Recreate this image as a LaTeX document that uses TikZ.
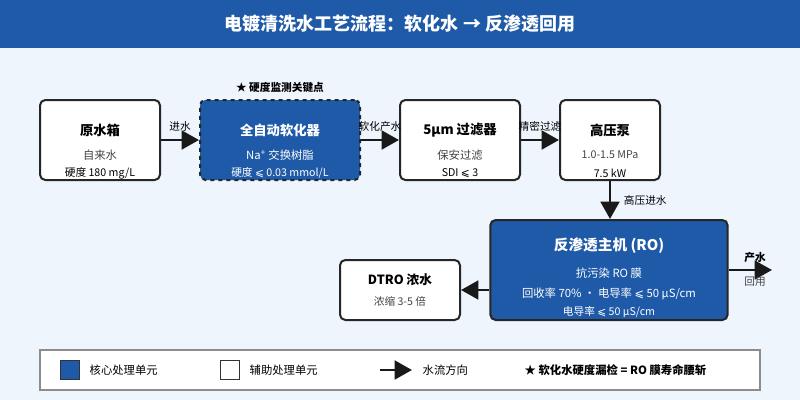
\documentclass[tikz,border=0pt]{standalone}
\usepackage{fontspec}
\setmainfont{Noto Sans CJK SC}
\newfontfamily\symfont{DejaVu Sans}
\newcommand{\leqsl}{{\symfont ⩽}}
\usetikzlibrary{arrows.meta}
\definecolor{coreblue}{HTML}{1F5AA8}
\definecolor{bgblue}{HTML}{EEF5FD}
\definecolor{subgray}{HTML}{444444}
\begin{document}
\begin{tikzpicture}[x=0.75pt, y=-0.75pt,
        box_style/.style={draw=black!85, line width=1.5pt, rounded corners=4pt, fill=white, minimum height=60pt, align=center},
        core_style/.style={box_style, fill=coreblue, text=white},
        flow_style/.style={draw=black!90, line width=2.2pt, -{Triangle[length=13pt,width=14pt]}},
        lbl_style/.style={font=\fontsize{8}{9}\selectfont, text=subgray}]
        \useasboundingbox (0,0) rectangle (800,400);
        \fill[bgblue] (0,0) rectangle (800,400);
        \fill[coreblue] (0,0) rectangle (800,48);
        \node[text=white, font=\fontsize{13.5}{15}\selectfont\bfseries] (title) at (400,24) {电镀清洗水工艺流程：软化水 → 反渗透回用};

        % process units
        \node[box_style, minimum width=90pt] (tank) at (100,140) {};
        \node[core_style, dashed, minimum width=120pt] (soft) at (280,140) {};
        \node[box_style, minimum width=90pt] (filt) at (460,140) {};
        \node[box_style, minimum width=75pt] (pump) at (610,140) {};
        \node[core_style, minimum width=178pt, minimum height=75pt] (ro) at (609,270) {};
        \node[box_style, minimum width=90pt, minimum height=45pt] (dtro) at (400,290) {};

        \node[font=\fontsize{10}{12}\selectfont\bfseries] at (100,130) {原水箱};
        \node[lbl_style, font=\fontsize{8.5}{10}\selectfont] at (100,155) {自来水};
        \node[lbl_style, text=black] at (100,173) {硬度 180 mg/L};
        \node[font=\fontsize{10}{12}\selectfont\bfseries, text=white] at (280,130) {全自动软化器};
        \node[font=\fontsize{8.5}{10}\selectfont, text=white] at (280,155) {Na\textsuperscript{+} 交换树脂};
        \node[font=\fontsize{8}{9}\selectfont, text=white] at (280,173) {硬度 \leqsl{} 0.03 mmol/L};
        \node[font=\fontsize{8}{10}\selectfont\bfseries] at (280,87) {★ 硬度监测关键点};
        \node[font=\fontsize{10}{12}\selectfont\bfseries] at (460,130) {5μm 过滤器};
        \node[lbl_style, font=\fontsize{8.5}{10}\selectfont] at (460,155) {保安过滤};
        \node[lbl_style, text=black] at (460,173) {SDI \leqsl{} 3};
        \node[font=\fontsize{10}{12}\selectfont\bfseries] at (610,130) {高压泵};
        \node[lbl_style] at (610,155) {1.0-1.5 MPa};
        \node[lbl_style, text=black] at (610,173) {7.5 kW};
        \node[font=\fontsize{11}{13}\selectfont\bfseries, text=white] at (609,246) {反渗透主机 (RO)};
        \node[font=\fontsize{8.5}{10}\selectfont, text=white] at (609,273) {抗污染 RO 膜};
        \node[font=\fontsize{8.5}{10}\selectfont, text=white] at (609,294) {回收率 70\% · 电导率 \leqsl{} 50 μS/cm};
        \node[font=\fontsize{8}{9}\selectfont, text=white] at (609,312) {电导率 \leqsl{} 50 μS/cm};
        \node[font=\fontsize{9.5}{11}\selectfont\bfseries] at (400,280) {DTRO 浓水};
        \node[lbl_style] at (400,301) {浓缩 3-5 倍};

        % flows
        \draw[flow_style] (tank) -- (soft) node[lbl_style, text=black, midway, above=2pt] {进水};
        \draw[flow_style] (soft) -- (filt) node[lbl_style, text=black, midway, above=2pt] {软化产水};
        \draw[flow_style] (filt) -- (pump) node[lbl_style, text=black, midway, above=2pt] {精密过滤};
        \draw[flow_style] (pump) -- (pump |- ro.north) node[lbl_style, text=black, midway, right=6pt] {高压进水};
        \coordinate (out) at (772,270);
        \draw[flow_style] (ro) -- (out);
        \node[font=\fontsize{8}{9}\selectfont\bfseries] at (755,257) {产水};
        \node[lbl_style] at (755,282) {回用};
        \draw[flow_style] (ro.west |- 0,290) -- (dtro.east |- 0,290);

        % legend
        \node[draw=black!45, fill=white, line width=1pt, minimum width=540pt, minimum height=30pt] (legend) at (400,370) {};
        \node[draw=black!80, fill=coreblue, minimum size=14pt, inner sep=0pt] (lcore) at (70,370) {};
        \node[anchor=west, font=\fontsize{8.5}{10}\selectfont] at (85,370) {核心处理单元};
        \node[draw=black!80, fill=white, minimum size=14pt, inner sep=0pt] (laux) at (230,370) {};
        \node[anchor=west, font=\fontsize{8.5}{10}\selectfont] at (245,370) {辅助处理单元};
        \coordinate (la) at (380,370);
        \coordinate (lb) at (412,370);
        \draw[flow_style] (la) -- (lb);
        \node[anchor=west, font=\fontsize{8.5}{10}\selectfont] at (418,370) {水流方向};
        \node[anchor=west, font=\fontsize{8.5}{10}\selectfont\bfseries] at (520,370) {★ 软化水硬度漏检 = RO 膜寿命腰斩};
\end{tikzpicture}
\end{document}
